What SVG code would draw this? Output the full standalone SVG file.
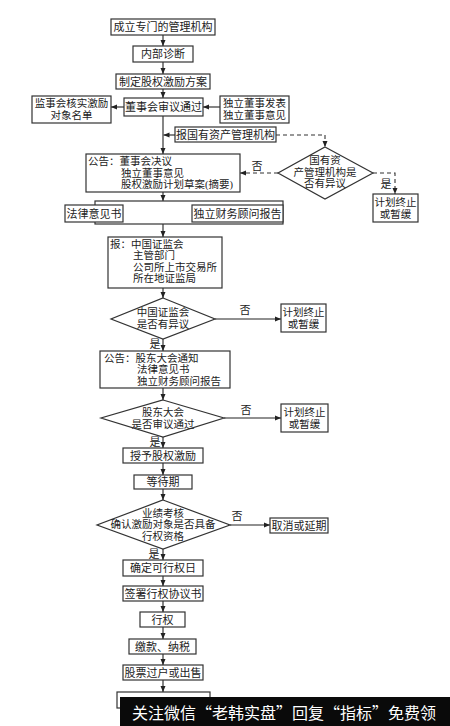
<svg xmlns="http://www.w3.org/2000/svg" width="450" height="726" viewBox="0 0 450 726">
<defs>
<marker id="ah" markerUnits="userSpaceOnUse" markerWidth="6" markerHeight="6" viewBox="0 0 6 6" refX="6" refY="3" orient="auto">
<path d="M0,0.5 L6,3 L0,5.5 Z" fill="#222"/>
</marker>
<style>
.b{fill:#fff;stroke:#333;stroke-width:1.2}
.t{font-family:"Liberation Serif","Noto Sans CJK SC","Noto Sans CJK TC",serif;font-size:11px;fill:#222;dominant-baseline:central}
.m{font-size:10.5px}
.c{text-anchor:middle}
.l{fill:none;stroke:#222;stroke-width:1.1}
.d{fill:none;stroke:#333;stroke-width:1.1;stroke-dasharray:4,3}
</style>
</defs>
<rect width="450" height="726" fill="#fff"/>

<g id="connectors">
<line class="l" x1="163" y1="35" x2="163" y2="46" marker-end="url(#ah)"/>
<line class="l" x1="163" y1="62" x2="163" y2="74" marker-end="url(#ah)"/>
<line class="l" x1="163" y1="89" x2="163" y2="98" marker-end="url(#ah)"/>
<line class="l" x1="124" y1="107" x2="111" y2="107" marker-end="url(#ah)"/>
<line class="l" x1="220" y1="107" x2="203" y2="107" marker-end="url(#ah)"/>
<line class="l" x1="163" y1="116" x2="163" y2="154" marker-end="url(#ah)"/>
<line class="l" x1="175" y1="135" x2="163.5" y2="135" marker-end="url(#ah)"/>
<polyline class="d" points="276,135 325,135 325,147" marker-end="url(#ah)"/>
<line class="d" x1="278" y1="173" x2="240" y2="173" marker-end="url(#ah)"/>
<polyline class="d" points="373,173 395,173 395,194" marker-end="url(#ah)"/>
<line class="l" x1="163" y1="192" x2="163" y2="201" marker-end="url(#ah)"/>
<line class="l" x1="163" y1="224" x2="163" y2="237" marker-end="url(#ah)"/>
<line class="l" x1="163" y1="288" x2="163" y2="298" marker-end="url(#ah)"/>
<line class="l" x1="215" y1="319" x2="281" y2="319" marker-end="url(#ah)"/>
<line class="l" x1="163" y1="339" x2="163" y2="351" marker-end="url(#ah)"/>
<line class="l" x1="163" y1="388" x2="163" y2="400" marker-end="url(#ah)"/>
<line class="l" x1="224" y1="418" x2="281" y2="418" marker-end="url(#ah)"/>
<line class="l" x1="163" y1="437" x2="163" y2="448" marker-end="url(#ah)"/>
<line class="l" x1="163" y1="463" x2="163" y2="475" marker-end="url(#ah)"/>
<line class="l" x1="163" y1="489" x2="163" y2="500" marker-end="url(#ah)"/>
<line class="l" x1="230" y1="525" x2="270" y2="525" marker-end="url(#ah)"/>
<line class="l" x1="163" y1="549" x2="163" y2="560" marker-end="url(#ah)"/>
<line class="l" x1="163" y1="576" x2="163" y2="586" marker-end="url(#ah)"/>
<line class="l" x1="163" y1="601" x2="163" y2="612" marker-end="url(#ah)"/>
<line class="l" x1="163" y1="627" x2="163" y2="639" marker-end="url(#ah)"/>
<line class="l" x1="163" y1="654" x2="163" y2="665" marker-end="url(#ah)"/>
<line class="l" x1="163" y1="680" x2="163" y2="692" marker-end="url(#ah)"/>
<text class="t c" x="257" y="166">否</text>
<text class="t c" x="386" y="184">是</text>
<text class="t c" x="245" y="310">否</text>
<text class="t c" x="155" y="344">是</text>
<text class="t c" x="246" y="410">否</text>
<text class="t c" x="155" y="442">是</text>
<text class="t c" x="237" y="516">否</text>
<text class="t c" x="154" y="554">是</text>
</g>

<g id="n1"><rect class="b" x="111" y="19" width="104" height="16"/><text class="t c" x="163" y="27">成立专门的管理机构</text></g>
<g id="n2"><rect class="b" x="133" y="46" width="60" height="16"/><text class="t c" x="163" y="54">内部诊断</text></g>
<g id="n3"><rect class="b" x="116" y="74" width="94" height="15"/><text class="t c" x="163" y="81.5">制定股权激励方案</text></g>
<g id="n4"><rect class="b" x="124" y="98" width="79" height="18"/><text class="t c" x="163.5" y="107">董事会审议通过</text></g>
<g id="n5"><rect class="b" x="32" y="96" width="79" height="27"/><text class="t m c" x="71.5" y="103.5">监事会核实激励</text><text class="t m c" x="71.5" y="115.5">对象名单</text></g>
<g id="n6"><rect class="b" x="220" y="96" width="69" height="27"/><text class="t m c" x="254.5" y="103.5">独立董事发表</text><text class="t m c" x="254.5" y="115.5">独立董事意见</text></g>
<g id="n7"><rect class="b" x="175" y="127" width="101" height="15"/><text class="t c" x="225.5" y="134.5">报国有资产管理机构</text></g>
<g id="n8"><polygon class="b" points="325,147 373,173 325,199 278,173"/><text class="t m c" x="325" y="160.5">国有资</text><text class="t m c" x="325" y="172">产管理机构是</text><text class="t m c" x="325" y="183.5">否有异议</text></g>
<g id="n9"><rect class="b" x="373" y="194" width="45" height="28"/><text class="t m c" x="395.5" y="202">计划终止</text><text class="t m c" x="395.5" y="214">或暂缓</text></g>
<g id="n10"><rect class="b" x="86" y="154" width="154" height="38"/><text class="t m" x="88" y="161.5">公告：董事会决议</text><text class="t m" x="121" y="173">独立董事意见</text><text class="t m" x="121" y="184.5">股权激励计划草案(摘要)</text></g>
<g id="n11"><rect class="b" x="95" y="201" width="188" height="23"/><rect class="b" x="65" y="205" width="58" height="17"/><text class="t c" x="94" y="213.5">法律意见书</text><rect class="b" x="192" y="205" width="91" height="17"/><text class="t c" x="237.5" y="213.5">独立财务顾问报告</text></g>
<g id="n12"><rect class="b" x="108" y="237" width="114" height="51"/><text class="t m" x="110" y="244">报：中国证监会</text><text class="t m" x="133" y="255.5">主管部门</text><text class="t m" x="133" y="267">公司所上市交易所</text><text class="t m" x="133" y="278.5">所在地证监局</text></g>
<g id="n13"><polygon class="b" points="163,298 215,319 163,339 111,319"/><text class="t m c" x="163" y="312">中国证监会</text><text class="t m c" x="163" y="324">是否有异议</text></g>
<g id="n14"><rect class="b" x="281" y="304" width="45" height="28"/><text class="t m c" x="303.5" y="312">计划终止</text><text class="t m c" x="303.5" y="324">或暂缓</text></g>
<g id="n15"><rect class="b" x="100" y="351" width="130" height="37"/><text class="t m" x="104" y="358">公告：股东大会通知</text><text class="t m" x="137" y="369.5">法律意见书</text><text class="t m" x="137" y="381">独立财务顾问报告</text></g>
<g id="n16"><polygon class="b" points="163,400 224,418 163,437 101,418"/><text class="t m c" x="163" y="412">股东大会</text><text class="t m c" x="163" y="424">是否审议通过</text></g>
<g id="n17"><rect class="b" x="281" y="404" width="47" height="28"/><text class="t m c" x="304.5" y="412">计划终止</text><text class="t m c" x="304.5" y="424">或暂缓</text></g>
<g id="n18"><rect class="b" x="123" y="448" width="80" height="15"/><text class="t c" x="163" y="455.5">授予股权激励</text></g>
<g id="n19"><rect class="b" x="134" y="475" width="58" height="14"/><text class="t c" x="163" y="482">等待期</text></g>
<g id="n20"><polygon class="b" points="163,500 230,525 163,549 97,525"/><text class="t m c" x="163" y="513">业绩考核</text><text class="t m c" x="163" y="524.5">确认激励对象是否具备</text><text class="t m c" x="163" y="536">行权资格</text></g>
<g id="n21"><rect class="b" x="270" y="518" width="58" height="15"/><text class="t c" x="299" y="525.5">取消或延期</text></g>
<g id="n22"><rect class="b" x="123" y="560" width="80" height="16"/><text class="t c" x="163" y="568">确定可行权日</text></g>
<g id="n23"><rect class="b" x="123" y="586" width="80" height="15"/><text class="t c" x="163" y="593.5">签署行权协议书</text></g>
<g id="n24"><rect class="b" x="140" y="612" width="45" height="15"/><text class="t c" x="162.5" y="619.5">行权</text></g>
<g id="n25"><rect class="b" x="129" y="639" width="67" height="15"/><text class="t c" x="162.5" y="646.5">缴款、纳税</text></g>
<g id="n26"><rect class="b" x="123" y="665" width="80" height="15"/><text class="t c" x="163" y="672.5">股票过户或出售</text></g>
<g id="n27"><rect class="b" x="117" y="692" width="93" height="16"/></g>

<g id="banner">
<rect x="120" y="697" width="330" height="29" fill="#0a0a0a"/>
<text x="284" y="712" text-anchor="middle" dominant-baseline="central" font-family="Noto Sans CJK SC, sans-serif" font-size="16" fill="#fff">关注微信“老韩实盘”回复“指标”免费领</text>
</g>
</svg>
